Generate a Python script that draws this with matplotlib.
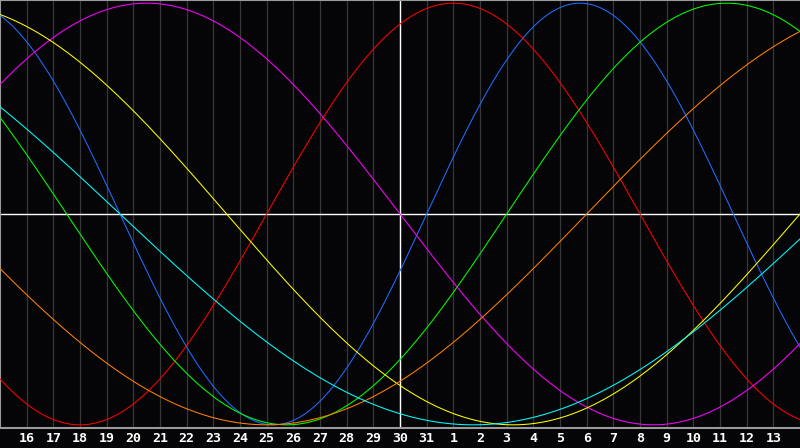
import numpy as np
import matplotlib
matplotlib.use("Agg")
from matplotlib import pyplot as plt

# biorhythm cycles: period in days and colour
periods = [23, 28, 33, 38, 43, 48, 53]
colors = ['#1e6eff', '#ff0000', '#00ff00', '#ff00ff', '#ffff00', '#ff8000', '#00ffff']
# days since birth at the left edge of the chart
days_alive = 18890
# day-of-month labels under each grid line (index 1..29)
day_labels = [str(d) for d in list(range(16, 32)) + list(range(1, 14))]
n_days = 30
today = 15

fig = plt.figure(figsize=(8, 4.48), dpi=100, facecolor='#050508')
ax = fig.add_axes([0, 20 / 448, 1, 428 / 448])
ax.set_facecolor('#050508')

t = np.linspace(0, n_days, 1200)
for x in range(1, n_days):
    ax.axvline(x, color='#383838', lw=0.9, zorder=1)

for p, c in zip(periods, colors):
    ax.plot(t, np.sin(2 * np.pi * (days_alive + t) / p), color=c, lw=0.75, zorder=3)

ax.axhline(0, color='white', lw=1.0, zorder=2)
ax.axvline(today, color='white', lw=1.0, zorder=2)

ax.set_xlim(0, n_days)
ax.set_ylim(-1.015, 1.015)
ax.set_xticks([])
ax.set_yticks([])
for s in ['left', 'top', 'bottom']:
    ax.spines[s].set_color('#9a9a9a')
    ax.spines[s].set_linewidth(1.5)
ax.spines['right'].set_visible(False)

for i, lab in enumerate(day_labels):
    fig.text((i + 1) / n_days, 10 / 448, lab, color='white', ha='center', va='center',
             fontsize=9.5, fontweight='bold', family='DejaVu Sans Mono')

fig.savefig('out.png', dpi=100, facecolor=fig.get_facecolor())
